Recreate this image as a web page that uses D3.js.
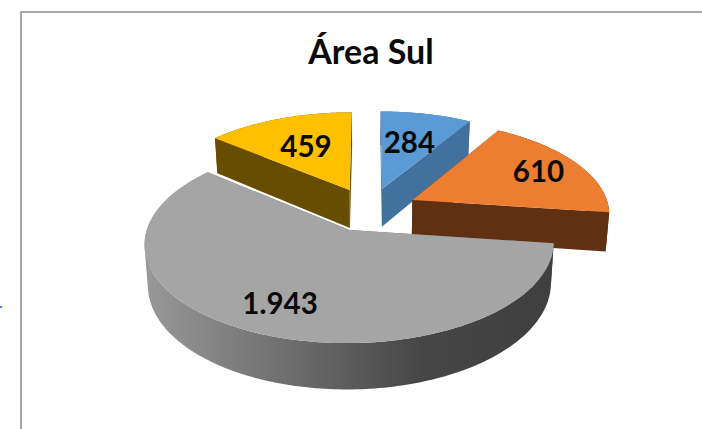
<!DOCTYPE html>
<html>
<head>
<meta charset="utf-8">
<script src="https://cdn.jsdelivr.net/npm/d3@7"></script>
<style>
html, body { margin: 0; padding: 0; background: #fff; overflow: hidden; }
svg { display: block; }
</style>
</head>
<body>
<div id="chart"></div>
<script>
// data
var title = "Área Sul";
var categories = ["Norte", "Leste", "Oeste", "Centro"];
var values = [284, 610, 1943, 459];
var topColors = ["#5B9BD5", "#ED7D31", "#A5A5A5", "#FFC000"];
var wallColors = ["#41719C", "#5F3112", "#636363", "#664D00"];
// how far along each slice the label sits, 0 = tip, 1 = rim
var labelRadius = [0.59, 0.76, 0.75, 0.59];
// back slices first, the big one goes over everything
var drawOrder = [0, 3, 1, 2];

var width = 702, height = 429;
var explodeX = 0.245, explodeY = 0.237, perspective = 0.13, depth = 39, bottomShrink = 0.985;

var x = d3.scaleLinear().domain([0, 1]).range([369.5, 369.5 + 197]);
var y = d3.scaleLinear().domain([0, 1]).range([209.4, 209.4 + 92.5]);

var ptBR = d3.formatLocale({decimal: ",", thousands: ".", grouping: [3], currency: ["R$", ""]});
var fmt = ptBR.format(",d");

var svg = d3.select("#chart").append("svg")
    .attr("width", width)
    .attr("height", height);

// frame of the chart area, cropped by the screenshot
var frame = svg.append("g").attr("stroke", "#a9a9a9").attr("stroke-width", 2);
frame.append("line").attr("x1", 20).attr("y1", 12).attr("x2", width).attr("y2", 12);
frame.append("line").attr("x1", 21).attr("y1", 12).attr("x2", 21).attr("y2", height);
svg.append("rect").attr("x", 0).attr("y", 306).attr("width", 2).attr("height", 2).attr("fill", "#3b82f6");

var rimGradient = svg.append("defs").append("linearGradient")
    .attr("id", "rimGray")
    .attr("gradientUnits", "userSpaceOnUse")
    .attr("x1", 150).attr("y1", 0).attr("x2", 550).attr("y2", 0);
rimGradient.append("stop").attr("offset", 0).attr("stop-color", "#979797");
rimGradient.append("stop").attr("offset", 0.68).attr("stop-color", "#464646");
rimGradient.append("stop").attr("offset", 1).attr("stop-color", "#3f3f3f");

var slices = d3.pie().sort(null).startAngle(0).endAngle(2 * Math.PI)(values);

// px, py: position in the pie plane, py grows toward the viewer
function project(px, py, bottom) {
    var w = 1 - perspective * py;
    var s = bottom ? bottomShrink : 1;
    return [x(0) + (x(px / w) - x(0)) * s, y(py / w) + (bottom ? depth / w : 0)];
}

function tip(d) {
    var mid = (d.startAngle + d.endAngle) / 2;
    return [explodeX * Math.sin(mid), -explodeY * Math.cos(mid)];
}

function rimPoint(d, a, r, bottom) {
    var t = tip(d);
    return project(t[0] + r * Math.sin(a), t[1] - r * Math.cos(a), bottom);
}

function arcAngles(d) {
    var n = Math.ceil((d.endAngle - d.startAngle) / 0.02);
    return d3.range(n + 1).map(function (i) {
        return d.startAngle + (d.endAngle - d.startAngle) * i / n;
    });
}

var line = d3.line();

drawOrder.forEach(function (i) {
    var d = slices[i];
    var t = tip(d);
    var g = svg.append("g").attr("class", "slice").attr("data-name", categories[i]);
    var angles = arcAngles(d);

    // flat walls on both cut edges
    [d.startAngle, d.endAngle].forEach(function (a) {
        g.append("path")
            .attr("fill", wallColors[i])
            .attr("d", line([
                project(t[0], t[1], false),
                rimPoint(d, a, 1, false),
                rimPoint(d, a, 1, true),
                project(t[0], t[1], true)
            ]) + "Z");
    });

    // curved outer wall, all quads in one path so there are no seams.
    // every quad wound the same way or the overlaps near the silhouette cancel out
    var rimPath = angles.slice(1).map(function (a, k) {
        var prev = angles[k];
        var quad = [
            rimPoint(d, prev, 1, false),
            rimPoint(d, a, 1, false),
            rimPoint(d, a, 1, true),
            rimPoint(d, prev, 1, true)
        ];
        if (d3.polygonArea(quad) < 0) quad.reverse();
        return line(quad) + "Z";
    }).join("");
    g.append("path")
        .attr("fill", i === 2 ? "url(#rimGray)" : wallColors[i])
        .attr("d", rimPath);

    // top face
    var top = [project(t[0], t[1], false)]
        .concat(angles.map(function (a) { return rimPoint(d, a, 1, false); }));
    g.append("path")
        .attr("fill", topColors[i])
        .attr("d", line(top) + "Z");
});

// labels after all the slices so none gets covered
slices.forEach(function (d, i) {
    var p = rimPoint(d, (d.startAngle + d.endAngle) / 2, labelRadius[i], false);
    svg.append("text")
        .attr("x", p[0])
        .attr("y", p[1])
        .attr("dy", "0.35em")
        .attr("text-anchor", "middle")
        .attr("font-family", "Lato, 'Open Sans', sans-serif")
        .attr("font-weight", 700)
        .attr("font-size", 29.5)
        .attr("fill", "#0a0a0a")
        .text(fmt(d.data));
});

svg.append("text")
    .attr("x", 371)
    .attr("y", 64)
    .attr("text-anchor", "middle")
    .attr("font-family", "Lato, 'Open Sans', sans-serif")
    .attr("font-weight", 700)
    .attr("font-size", 34)
    .attr("fill", "#0a0a0a")
    .text(title);
</script>
</body>
</html>
